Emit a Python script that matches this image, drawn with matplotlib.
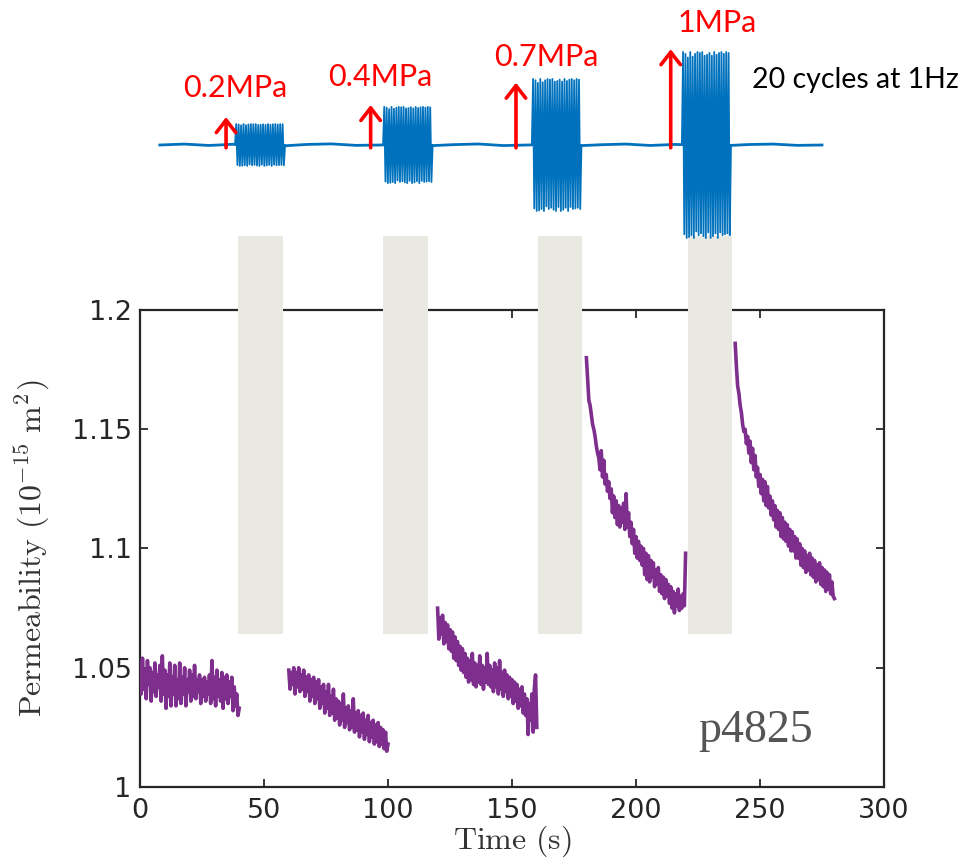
import numpy as np
import matplotlib
matplotlib.use('Agg')
import matplotlib.pyplot as plt

plt.rcParams['mathtext.fontset'] = 'cm'

# permeability segments (10^-15 m^2), sampled every 0.5 s
seg_start = [0, 60, 120, 180, 240]
dt = 0.5
perm_1 = [1.052, 1.039, 1.054, 1.041, 1.049, 1.037, 1.053, 1.043, 1.050, 1.036,
          1.048, 1.040, 1.052, 1.038, 1.047, 1.042, 1.051, 1.036, 1.055, 1.039,
          1.049, 1.033, 1.047, 1.038, 1.052, 1.034, 1.046, 1.039, 1.051, 1.034,
          1.045, 1.037, 1.052, 1.035, 1.046, 1.039, 1.050, 1.034, 1.045, 1.040,
          1.049, 1.036, 1.047, 1.038, 1.051, 1.037, 1.045, 1.040, 1.047, 1.035,
          1.045, 1.038, 1.046, 1.036, 1.044, 1.039, 1.047, 1.035, 1.053, 1.037,
          1.046, 1.034, 1.049, 1.038, 1.045, 1.036, 1.048, 1.033, 1.046, 1.037,
          1.047, 1.035, 1.044, 1.038, 1.046, 1.032, 1.042, 1.034, 1.039, 1.030,
          1.033]
perm_2 = [1.049, 1.041, 1.048, 1.043, 1.050, 1.039, 1.048, 1.042, 1.050, 1.040,
          1.047, 1.041, 1.049, 1.038, 1.046, 1.040, 1.047, 1.036, 1.045, 1.038,
          1.046, 1.035, 1.044, 1.037, 1.045, 1.033, 1.042, 1.035, 1.043, 1.031,
          1.040, 1.033, 1.043, 1.030, 1.038, 1.031, 1.041, 1.028, 1.037, 1.029,
          1.036, 1.026, 1.035, 1.028, 1.039, 1.025, 1.033, 1.027, 1.034, 1.024,
          1.032, 1.025, 1.037, 1.023, 1.031, 1.024, 1.032, 1.021, 1.030, 1.023,
          1.031, 1.020, 1.028, 1.022, 1.030, 1.019, 1.027, 1.021, 1.028, 1.018,
          1.026, 1.019, 1.027, 1.017, 1.025, 1.018, 1.024, 1.016, 1.023, 1.015,
          1.018]
perm_3 = [1.075, 1.062, 1.071, 1.064, 1.072, 1.060, 1.069, 1.061, 1.068, 1.058,
          1.066, 1.057, 1.065, 1.054, 1.063, 1.053, 1.061, 1.051, 1.059, 1.049,
          1.058, 1.048, 1.056, 1.046, 1.054, 1.044, 1.053, 1.045, 1.056, 1.043,
          1.052, 1.042, 1.051, 1.044, 1.055, 1.043, 1.051, 1.041, 1.050, 1.044,
          1.056, 1.043, 1.051, 1.042, 1.049, 1.040, 1.052, 1.042, 1.050, 1.039,
          1.053, 1.041, 1.048, 1.038, 1.049, 1.040, 1.047, 1.037, 1.046, 1.038,
          1.045, 1.035, 1.044, 1.036, 1.043, 1.033, 1.041, 1.034, 1.042, 1.031,
          1.039, 1.030, 1.037, 1.022, 1.035, 1.028, 1.039, 1.023, 1.041, 1.047,
          1.025]
perm_4 = [1.180, 1.171, 1.162, 1.160, 1.156, 1.152, 1.150, 1.147, 1.143, 1.140,
          1.138, 1.133, 1.141, 1.130, 1.137, 1.127, 1.131, 1.124, 1.128, 1.121,
          1.125, 1.115, 1.122, 1.113, 1.120, 1.110, 1.118, 1.109, 1.117, 1.111,
          1.119, 1.108, 1.123, 1.109, 1.115, 1.105, 1.111, 1.102, 1.108, 1.098,
          1.105, 1.096, 1.103, 1.095, 1.101, 1.093, 1.100, 1.089, 1.098, 1.087,
          1.097, 1.086, 1.095, 1.088, 1.094, 1.084, 1.091, 1.085, 1.092, 1.082,
          1.089, 1.081, 1.088, 1.079, 1.087, 1.080, 1.085, 1.077, 1.084, 1.075,
          1.082, 1.073, 1.081, 1.076, 1.083, 1.074, 1.080, 1.075, 1.081, 1.076,
          1.098]
perm_5 = [1.186, 1.176, 1.168, 1.165, 1.160, 1.157, 1.152, 1.149, 1.150, 1.144,
          1.147, 1.140, 1.145, 1.136, 1.142, 1.133, 1.139, 1.130, 1.134, 1.126,
          1.131, 1.123, 1.129, 1.120, 1.128, 1.118, 1.126, 1.117, 1.122, 1.114,
          1.120, 1.112, 1.118, 1.109, 1.116, 1.108, 1.115, 1.105, 1.113, 1.104,
          1.111, 1.103, 1.110, 1.101, 1.108, 1.099, 1.107, 1.099, 1.105, 1.096,
          1.104, 1.096, 1.102, 1.093, 1.100, 1.092, 1.099, 1.090, 1.097, 1.091,
          1.098, 1.089, 1.096, 1.088, 1.095, 1.086, 1.093, 1.087, 1.094, 1.085,
          1.092, 1.084, 1.091, 1.082, 1.090, 1.083, 1.089, 1.081, 1.086, 1.080,
          1.079]
segments = [perm_1, perm_2, perm_3, perm_4, perm_5]

# loading windows (s), shaded in gray
load_start = [39.5, 97.8, 160.3, 221.0]
load_end = [57.7, 116.0, 178.2, 238.7]
shade_bottom = 1.0643
shade_top = 1.2309

# stress waveform on top
amp_labels = ['0.2MPa', '0.4MPa', '0.7MPa', '1MPa']
burst_start = [38.3, 98.0, 158.0, 218.5]
burst_end = [58.5, 118.0, 178.0, 238.3]
burst_amp = [0.225, 0.41, 0.71, 1.0]
arrow_x = [34.7, 93.0, 151.6, 214.0]
arrow_tip = [0.30, 0.43, 0.67, 1.03]
label_x = [38.3, 96.8, 163.7, 232.7]
label_y = [0.613, 0.731, 0.946, 1.312]
peak_scale = [1.0, 0.96, 0.98, 1.0, 0.94, 0.99, 1.0, 0.97, 0.95, 1.0,
              0.98, 0.93, 1.0, 0.97, 0.99, 0.95, 1.0, 0.98, 0.96, 1.0,
              0.97, 0.94, 0.99, 1.0, 0.96, 0.98, 1.0, 0.95, 0.97, 1.0,
              0.99, 0.94, 1.0, 0.97, 0.98, 0.96, 1.0, 0.95, 0.99, 0.97]
baseline_vals = [0.0, 0.01, -0.005, 0.008, 0.0, -0.01, 0.006, 0.012, -0.004, 0.0,
                 0.009, -0.008, 0.004, 0.011, -0.006, 0.0, 0.007, -0.009, 0.003, 0.01,
                 -0.005, 0.006, 0.0, -0.008, 0.005, 0.01, -0.004, 0.0]

purple = '#7E2F8E'
blue = '#0072BD'
dark = '#262626'

fig = plt.figure(figsize=(9.66, 8.6), dpi=100)
ax = fig.add_axes([140/966, 73/860, 744/966, 477/860])

for start, vals in zip(seg_start, segments):
    t = start + dt*np.arange(len(vals))
    ax.plot(t, vals, color=purple, lw=2.6, zorder=4)

for s, e in zip(load_start, load_end):
    ax.bar(s, shade_top - shade_bottom, width=e - s, bottom=shade_bottom,
           align='edge', color='#e9e9e2', zorder=3, clip_on=False)

ax.set_xlim(0, 300)
ax.set_ylim(1, 1.2)
ax.set_xticks([0, 50, 100, 150, 200, 250, 300])
ax.set_yticks([1, 1.05, 1.1, 1.15, 1.2])
ax.set_yticklabels(['1', '1.05', '1.1', '1.15', '1.2'])
ax.tick_params(direction='in', top=True, right=True, length=6, width=1.3,
               labelsize=19.5, colors=dark)
ax.tick_params(axis='y', pad=6)
ax.tick_params(axis='x', pad=8)
for lab in ax.get_xticklabels() + ax.get_yticklabels():
    lab.set_family('DejaVu Sans')
for sp in ax.spines.values():
    sp.set_linewidth(1.6)
    sp.set_color(dark)

ax.set_xlabel(r'$\mathrm{Time\ (s)}$', fontsize=23, color='#333333')
ax.set_ylabel(r'$\mathrm{Permeability}\ (10^{-15}\ \mathrm{m}^2)$', fontsize=23,
              color='#333333')
ax.xaxis.set_label_coords(0.5, -0.077)
ax.yaxis.set_label_coords(-0.118, 0.5)

ax.text(0.828, 0.117, 'p4825', transform=ax.transAxes, fontsize=33,
        family='Liberation Serif', color='#555555', ha='center', va='center')

# top panel: applied stress waveform
top = fig.add_axes([140/966, 620/860, 744/966, 240/860])
top.axis('off')
top.set_xlim(0, 300)
top.set_ylim(-95/93, 145/93)

bt = np.linspace(8, 275, len(baseline_vals))
top.plot(bt, baseline_vals, color=blue, lw=2)
for s, e, a in zip(burst_start, burst_end, burst_amp):
    x = np.linspace(s, e, len(peak_scale) + 2)
    sign = np.tile([1, -1], len(peak_scale)//2)
    y = np.concatenate([[0], a*np.array(peak_scale)*sign, [0]])
    top.plot(x, y, color=blue, lw=1.3)

for xa, tip, xl, yl, lab in zip(arrow_x, arrow_tip, label_x, label_y, amp_labels):
    top.annotate('', xy=(xa, tip), xytext=(xa, -0.03),
                 arrowprops=dict(arrowstyle='->,head_length=0.45,head_width=0.35',
                                 color='red', lw=2.6, mutation_scale=20,
                                 shrinkA=0, shrinkB=0))
    top.text(xl, yl, lab, color='red', fontsize=22, family='Lato',
             ha='center', va='center')

top.text(246.8, 0.699, '20 cycles at 1Hz', color='black', fontsize=20.5,
         family='Lato', ha='left', va='center')

plt.savefig('out.png', dpi=100)
